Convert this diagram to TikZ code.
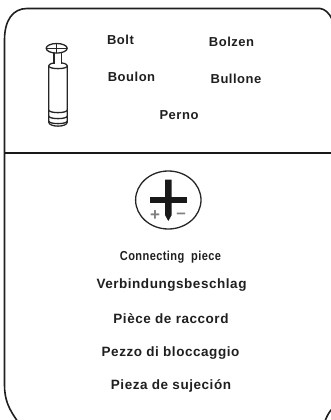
\documentclass[tikz,border=0pt]{standalone}
\usepackage{fontspec}
\setmainfont{Liberation Sans}
\newfontfamily\lbl[LetterSpace=4]{Liberation Sans Bold}
\newfontfamily\lblnarrow[LetterSpace=3,FakeStretch=0.85]{Liberation Sans Bold}
\tikzset{
  frameline/.style={line width=1.6pt,draw=black!88},
  partline/.style={line width=1.3pt,draw=black!85,fill=white},
  word/.style={inner sep=0pt,anchor=center,text=black!88,font=\lbl\fontsize{13}{15}\selectfont},
  wordb/.style={word,font=\lbl\fontsize{13.5}{15}\selectfont},
  sign/.style={inner sep=0pt,text=black!50,font=\bfseries\fontsize{17}{17}\selectfont}
}
\begin{document}
\begin{tikzpicture}[x=1pt,y=-1pt]
\useasboundingbox (0,0) rectangle (331,420);
\clip (0,0) rectangle (331,420);
% frame
\draw[frameline] (17,420.5) .. controls (9,409) and (4.5,400) .. (4.5,385)
  -- (4.5,40) .. controls (4.5,20) and (13,8.5) .. (27,8.5)
  -- (320,8.5) .. controls (325,9) and (329,13) .. (332,19);
\draw[frameline] (325,421) .. controls (327,416) and (329,412) .. (332,409);
\coordinate (ruleL) at (4.5,152.7);
\coordinate (ruleR) at (331,152.7);
\draw[line width=1.8pt,draw=black!90] (ruleL) -- (ruleR);
% bolt
\draw[partline] (48.7,66) -- (48.7,122) .. controls (48.7,127.5) and (67.3,127.5) .. (67.3,122) -- (67.3,66);
\draw[partline] (48.7,66) .. controls (48.7,61.5) and (67.3,61.5) .. (67.3,66) .. controls (67.3,69.5) and (48.7,69.5) .. (48.7,66);
\draw[partline] (48.7,110) .. controls (48.7,113.5) and (67.3,113.5) .. (67.3,110);
\draw[partline,fill=none] (48.7,116) .. controls (48.7,119.5) and (67.3,119.5) .. (67.3,116);
\draw[partline,fill=none] (48.7,121) .. controls (48.7,124.5) and (67.3,124.5) .. (67.3,121);
\fill[white] (54,53) rectangle (61.5,64);
\draw[partline,fill=none] (54,53) -- (54,64);
\draw[partline,fill=none] (61.5,53) -- (61.5,64);
\draw[partline] (56.7,48.3) ellipse [x radius=10.5,y radius=4.8];
\draw[line width=1pt,draw=black!85] (46.2,48.3) -- (67.2,48.3);
\draw[line width=1pt,draw=black!85] (56.7,43.5) -- (56.7,53);
% labels top
\node[word] (bolt) at (120.5,39.5) {Bolt};
\node[word] (bolzen) at (231.5,41.5) {Bolzen};
\node[word] (boulon) at (131.5,77) {Boulon};
\node[word] (bullone) at (236,79) {Bullone};
\node[word] (perno) at (179,115) {Perno};
% symbol
\draw[line width=1.3pt,draw=black!85] (168.3,200) ellipse [x radius=32.7,y radius=29];
\fill[black!90] (150,197.3) rectangle (186.7,202.7);
\fill[black!90] (165,179.5) -- (171.7,179.5) -- (171.7,215) -- (168.3,221) -- (165,215) -- cycle;
\node[sign] (plus) at (155,216) {+};
\node[sign] (minus) at (181,216) {\textendash};
% labels bottom
\node[word,font=\lblnarrow\fontsize{13}{15}\selectfont] (conn) at (170.5,257.5) {Connecting\ \ piece};
\node[wordb] (verb) at (171.5,285) {Verbindungsbeschlag};
\node[wordb] (piece) at (171,318.5) {Pièce de raccord};
\node[wordb] (pezzo) at (170.5,353) {Pezzo di bloccaggio};
\node[wordb] (pieza) at (171,386) {Pieza de sujeción};
\end{tikzpicture}
\end{document}
